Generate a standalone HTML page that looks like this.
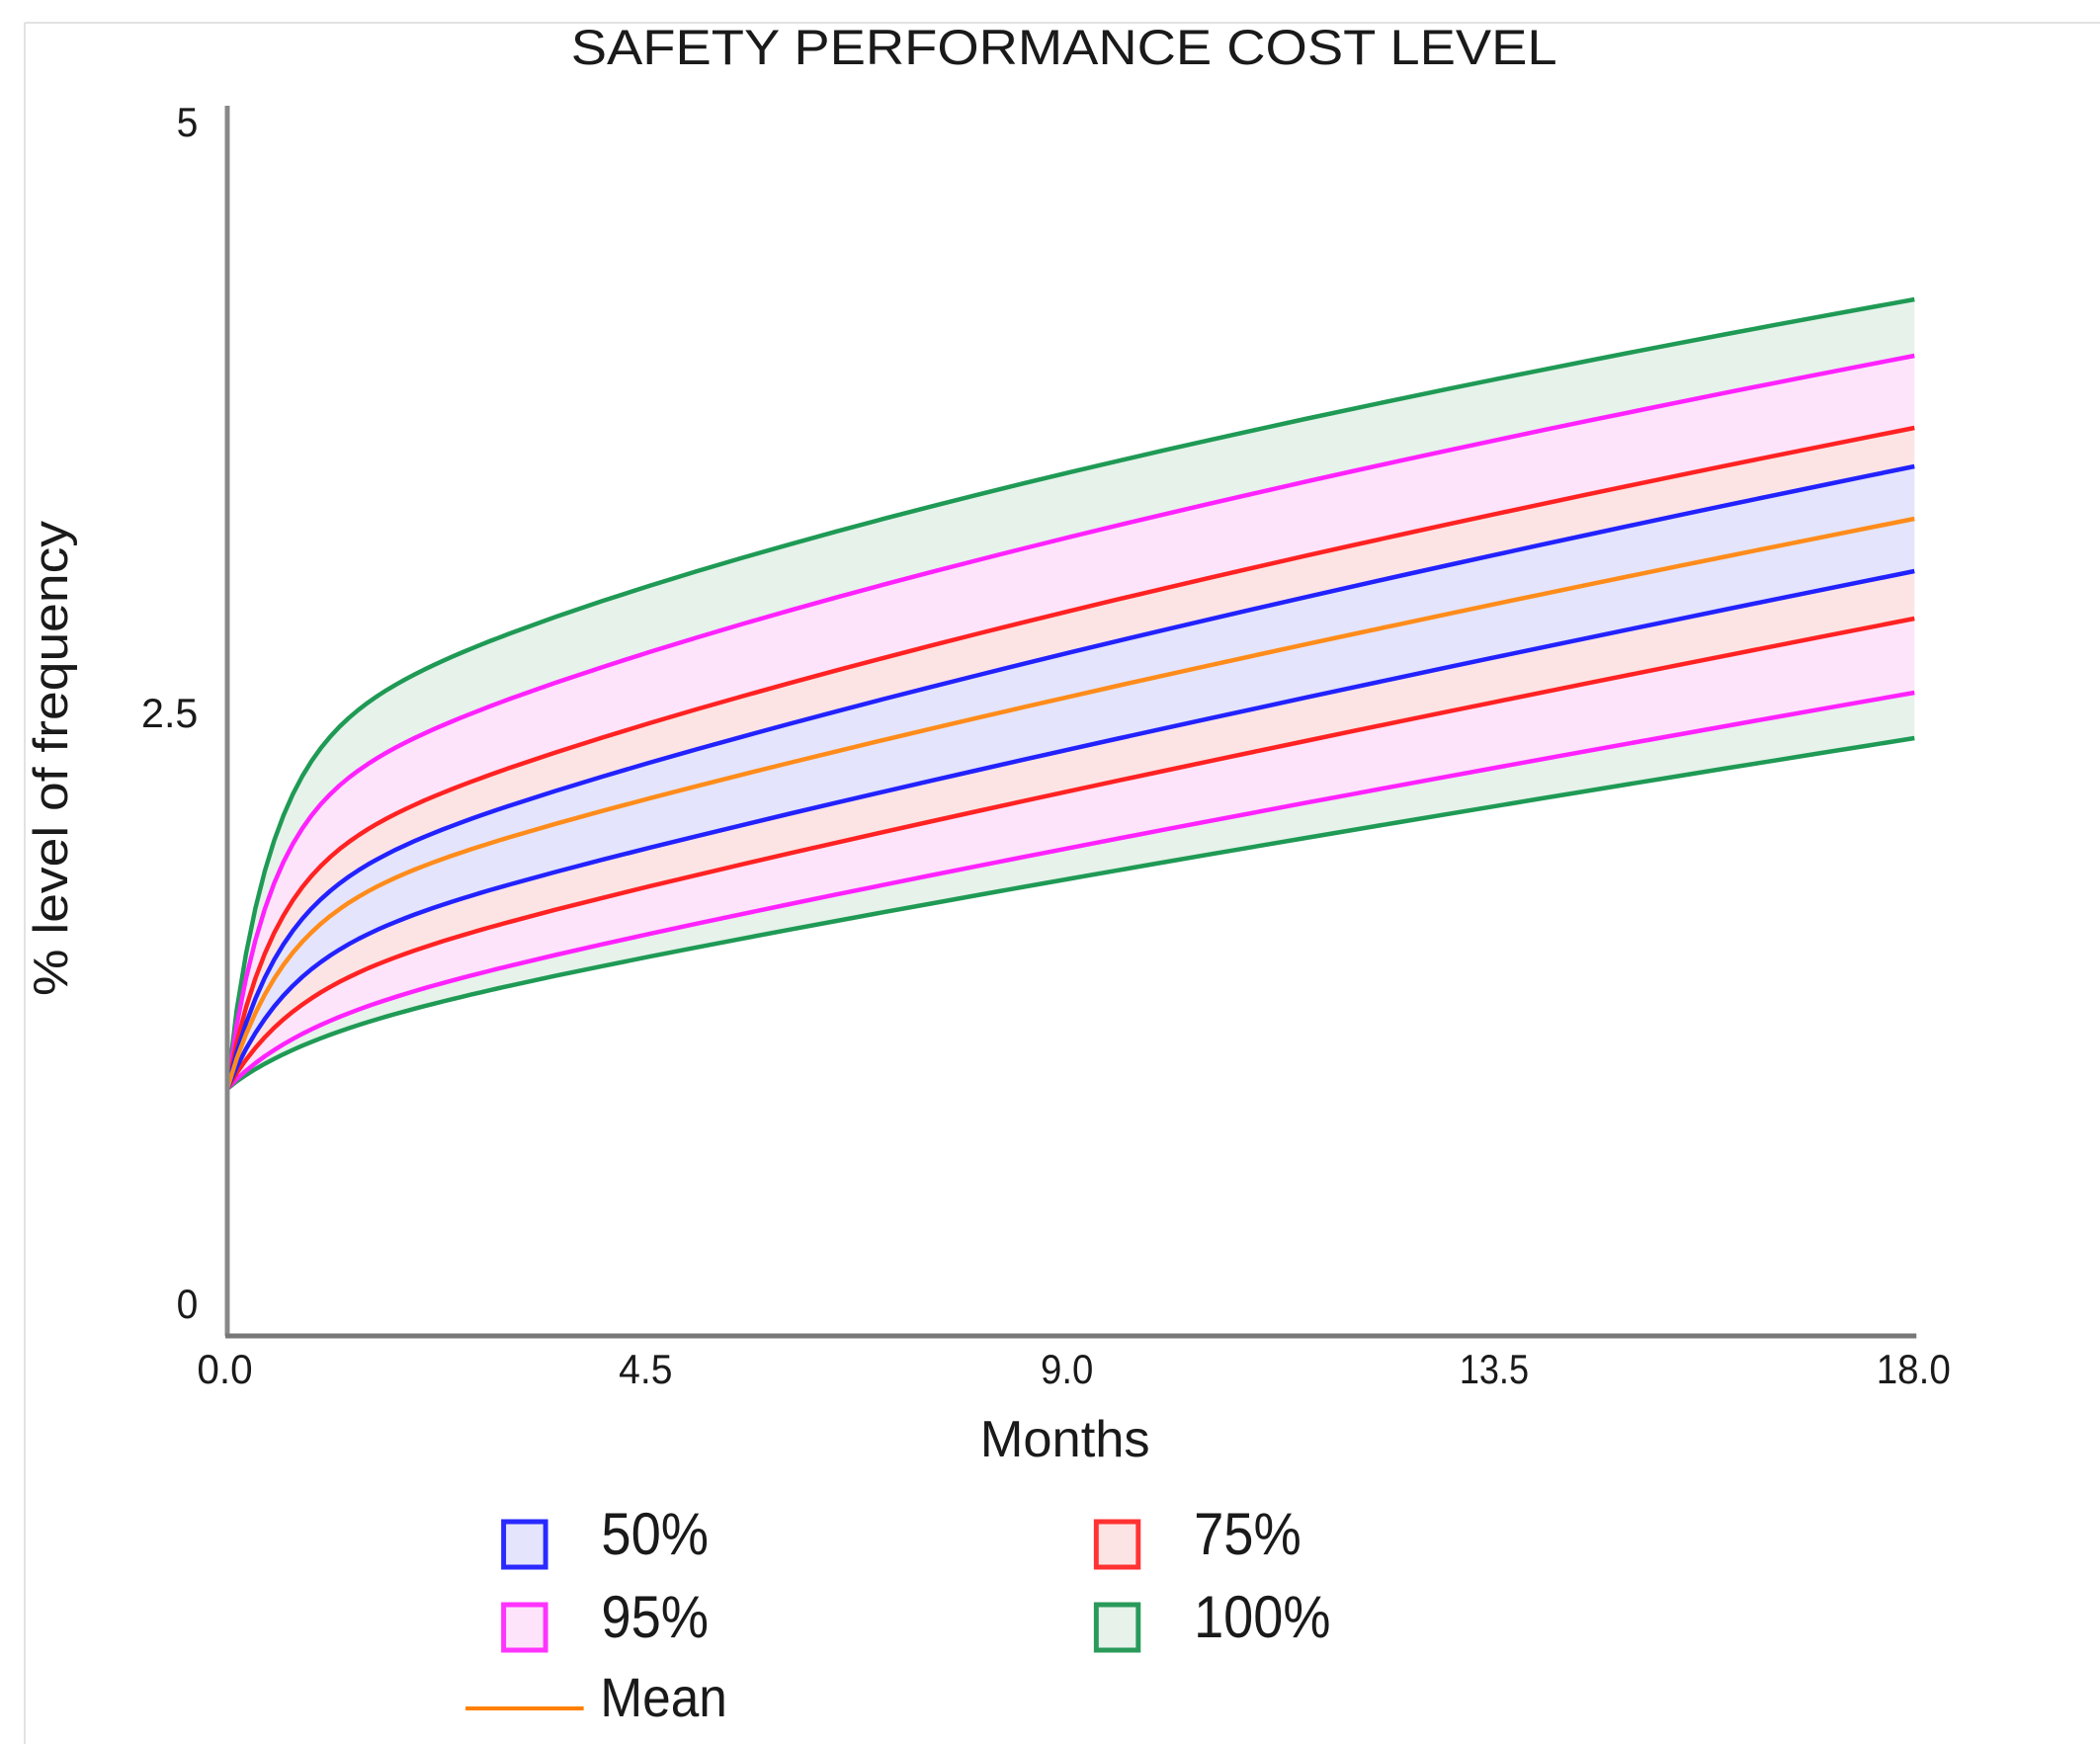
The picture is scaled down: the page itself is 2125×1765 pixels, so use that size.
<!DOCTYPE html>
<html><head><meta charset="utf-8"><style>
html,body{margin:0;padding:0;background:#fff;}
svg{display:block;}
text{font-family:"Liberation Sans",Arial,sans-serif;fill:#1a1a1a;}
</style></head><body>
<svg id="s" width="2125" height="1765" viewBox="0 0 2125 1765" xmlns="http://www.w3.org/2000/svg">
<line x1="25" y1="23" x2="2125" y2="23" stroke="#e2e2e2" stroke-width="2"/>
<line x1="25" y1="23" x2="25" y2="1765" stroke="#e2e2e2" stroke-width="2"/>
<g transform="translate(230,0) scale(0.988,1) translate(-230,0)">
<text x="582" y="65" font-size="50" textLength="1010" lengthAdjust="spacingAndGlyphs">SAFETY PERFORMANCE COST LEVEL</text>
<g id="fills"></g>
<g id="lines"></g>
<line x1="230" y1="107" x2="230" y2="1352" stroke="#888" stroke-width="5"/>
<line x1="228" y1="1352" x2="1960" y2="1352" stroke="#777" stroke-width="5"/>
<text x="200" y="138" font-size="42" text-anchor="end" textLength="22" lengthAdjust="spacingAndGlyphs">5</text>
<text x="200" y="736" font-size="42" text-anchor="end" textLength="58" lengthAdjust="spacingAndGlyphs">2.5</text>
<text x="200" y="1334" font-size="42" text-anchor="end" textLength="22" lengthAdjust="spacingAndGlyphs">0</text>
<text x="199" y="1400" font-size="42" textLength="57" lengthAdjust="spacingAndGlyphs">0.0</text>
<text x="631" y="1400" font-size="42" textLength="55" lengthAdjust="spacingAndGlyphs">4.5</text>
<text x="1063" y="1400" font-size="42" textLength="54" lengthAdjust="spacingAndGlyphs">9.0</text>
<text x="1492" y="1400" font-size="42" textLength="71" lengthAdjust="spacingAndGlyphs">13.5</text>
<text x="1919" y="1400" font-size="42" textLength="76" lengthAdjust="spacingAndGlyphs">18.0</text>
<text x="1001" y="1474" font-size="52" textLength="174" lengthAdjust="spacingAndGlyphs">Months</text>
<text transform="translate(66,1008) rotate(-90)" font-size="50" textLength="481" lengthAdjust="spacingAndGlyphs">% level of frequency</text>
<rect x="513" y="1540" width="43" height="46" fill="#e4e4fc" stroke="#2a2aff" stroke-width="5"/>
<text x="613" y="1573" font-size="60" textLength="110" lengthAdjust="spacingAndGlyphs">50%</text>
<rect x="1120" y="1540" width="43" height="46" fill="#fde4e4" stroke="#ff3333" stroke-width="5"/>
<text x="1220" y="1573" font-size="60" textLength="110" lengthAdjust="spacingAndGlyphs">75%</text>
<rect x="513" y="1624" width="43" height="46" fill="#fde4fa" stroke="#ff33ff" stroke-width="5"/>
<text x="613" y="1657" font-size="60" textLength="110" lengthAdjust="spacingAndGlyphs">95%</text>
<rect x="1120" y="1624" width="43" height="46" fill="#e6f2ea" stroke="#2a9a5a" stroke-width="5"/>
<text x="1220" y="1657" font-size="60" textLength="140" lengthAdjust="spacingAndGlyphs">100%</text>
<line x1="474" y1="1729" x2="595" y2="1729" stroke="#ff8000" stroke-width="4"/>
<text x="612" y="1737" font-size="56" textLength="130" lengthAdjust="spacingAndGlyphs">Mean</text>
</g>
</svg>
<script>
(function(){
var x0=230,y0=1102,px=96;
// [r45, r18, q, tau, color]
var C=[
 [509,799,0.6,0.45,'#1f9a55'],
 [442,742,0.65,0.45,'#ff22ff'],
 [370,669,0.7,0.5,'#ff2222'],
 [330,630,0.75,0.55,'#2222ff'],
 [294,577,0.8,0.6,'#ff8c1a'],
 [244,524,0.85,0.65,'#2222ff'],
 [205,476,0.85,0.7,'#ff2222'],
 [157,401,0.85,0.8,'#ff22ff'],
 [134,355,0.85,0.9,'#1f9a55']];
var fills=['#e6f2ea','#fde4fa','#fde4e4','#e4e4fc','#e4e4fc','#fde4e4','#fde4fa','#e6f2ea'];
var ts=[];for(var t=0;t<=18.0001;t+=(t<3?0.1:0.5))ts.push(+t.toFixed(2));
function pts(c){var q=c[2],S=(c[1]-c[0])/(Math.pow(18,q)-Math.pow(4.5,q)),J=Math.max(0,c[0]-S*Math.pow(4.5,q));
 return ts.map(function(t){var r=J*(1-Math.exp(-t/c[3]))+S*Math.pow(t,q);return [x0+t*px,y0-r];});}
var P=C.map(pts);
var ns='http://www.w3.org/2000/svg';
var fg=document.getElementById('fills'),lg=document.getElementById('lines');
function s(a){return a.map(function(p){return p[0].toFixed(1)+','+p[1].toFixed(1);}).join(' ');}
for(var i=0;i<8;i++){var pl=document.createElementNS(ns,'polygon');
 pl.setAttribute('points',s(P[i])+' '+s(P[i+1].slice().reverse()));pl.setAttribute('fill',fills[i]);fg.appendChild(pl);}
var order=[8,0,7,1,6,2,5,3,4];
order.forEach(function(i){var l=document.createElementNS(ns,'polyline');
 l.setAttribute('points',s(P[i]));l.setAttribute('fill','none');l.setAttribute('stroke',C[i][4]);
 l.setAttribute('stroke-width','4.5');l.setAttribute('stroke-linejoin','round');lg.appendChild(l);});
})();
</script>
</body></html>
